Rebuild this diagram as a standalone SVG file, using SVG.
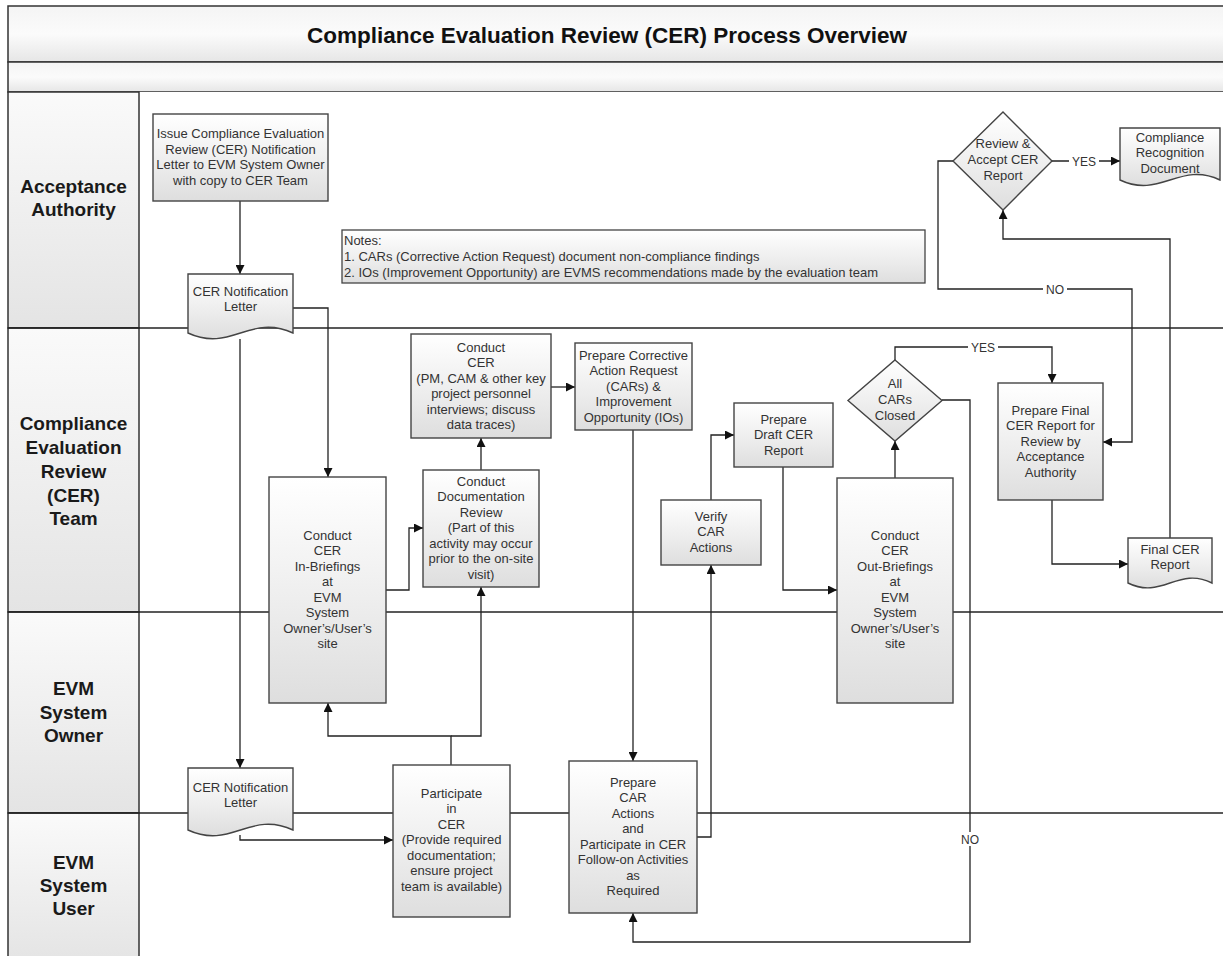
<svg xmlns="http://www.w3.org/2000/svg" width="1223" height="956" viewBox="0 0 1223 956">
<defs>
<linearGradient id="gNode" x1="0" y1="0" x2="0" y2="1">
<stop offset="0" stop-color="#ffffff"/>
<stop offset="0.6" stop-color="#ececec"/>
<stop offset="1" stop-color="#dedede"/>
</linearGradient>
<linearGradient id="gBand" x1="0" y1="0" x2="0" y2="1">
<stop offset="0" stop-color="#f4f4f4"/>
<stop offset="0.5" stop-color="#fbfbfb"/>
<stop offset="1" stop-color="#e6e6e6"/>
</linearGradient>
<linearGradient id="gLane" x1="0" y1="0" x2="0" y2="1">
<stop offset="0" stop-color="#fafafa"/>
<stop offset="1" stop-color="#e4e4e4"/>
</linearGradient>
<marker id="arr" viewBox="0 0 10 10" refX="10" refY="5" markerWidth="9" markerHeight="9" markerUnits="userSpaceOnUse" orient="auto">
<path d="M0,0 L10,5 L0,10 Z" fill="#111"/>
</marker>
<style>
.band{fill:url(#gBand);stroke:#333;stroke-width:1.5}
.lanehd{fill:url(#gLane);stroke:#333;stroke-width:1.5}
.laneline{stroke:#222;stroke-width:1.6;fill:none}
.node{fill:url(#gNode);stroke:#444;stroke-width:1.4}
.notes{fill:url(#gNode);stroke:#444;stroke-width:1.3}
.t{font-family:"Liberation Sans",Arial,sans-serif;font-size:13px;fill:#333;text-anchor:middle}
.nt{font-family:"Liberation Sans",Arial,sans-serif;font-size:13px;fill:#333}
.lb{font-family:"Liberation Sans",Arial,sans-serif;font-size:12px;fill:#333;text-anchor:middle}
.lane{font-family:"Liberation Sans",Arial,sans-serif;font-size:19px;font-weight:bold;fill:#1a1a1a;text-anchor:middle}
.title{font-family:"Liberation Sans",Arial,sans-serif;font-size:22.5px;font-weight:bold;fill:#111;text-anchor:middle}
.c{fill:none;stroke:#222;stroke-width:1.3}
.ca{fill:none;stroke:#222;stroke-width:1.3;marker-end:url(#arr)}
.lbg{fill:#fff}
</style>
</defs>

<g id="pool">
<rect class="band" x="8" y="6" width="1225" height="56"/>
<text class="title" x="607" y="42.5">Compliance Evaluation Review (CER) Process Overview</text>
<rect class="band" x="8" y="62" width="1225" height="30"/>
<rect x="139" y="92" width="1094" height="870" fill="#fff"/>
<rect class="lanehd" x="8" y="92" width="131" height="236"/>
<rect class="lanehd" x="8" y="328" width="131" height="284"/>
<rect class="lanehd" x="8" y="612" width="131" height="201"/>
<rect class="lanehd" x="8" y="813" width="131" height="150"/>
<line class="laneline" x1="8" y1="328" x2="1223" y2="328"/>
<line class="laneline" x1="8" y1="612" x2="1223" y2="612"/>
<line class="laneline" x1="8" y1="813" x2="1223" y2="813"/>
<text class="lane" x="73.5" y="192.5">Acceptance</text>
<text class="lane" x="73.5" y="215.5">Authority</text>
<text class="lane" x="73.5" y="429.5">Compliance</text>
<text class="lane" x="73.5" y="453.5">Evaluation</text>
<text class="lane" x="73.5" y="477.5">Review</text>
<text class="lane" x="73.5" y="501.5">(CER)</text>
<text class="lane" x="73.5" y="524.5">Team</text>
<text class="lane" x="73.5" y="694.5">EVM</text>
<text class="lane" x="73.5" y="718.5">System</text>
<text class="lane" x="73.5" y="741.5">Owner</text>
<text class="lane" x="73.5" y="868.5">EVM</text>
<text class="lane" x="73.5" y="891.5">System</text>
<text class="lane" x="73.5" y="914.5">User</text>
</g>

<g id="connectors">
<path class="ca" d="M240,201 V274"/>
<path class="ca" d="M293,308 H328 V477"/>
<path class="ca" d="M240,339 V768"/>
<path class="ca" d="M240,835 V840 H393"/>
<path class="ca" d="M386,590 H409 V528 H423"/>
<path class="ca" d="M481,470 V438"/>
<path class="ca" d="M451,765 V736 H328 V703"/>
<path class="ca" d="M451,736 H481 V587"/>
<path class="ca" d="M551,387 H575"/>
<path class="ca" d="M633,430 V761"/>
<path class="ca" d="M697,837 H711 V565"/>
<path class="ca" d="M711,500 V435 H734"/>
<path class="ca" d="M783,467 V590 H837"/>
<path class="ca" d="M895,478 V441"/>
<path class="ca" d="M895,360 V347 H1052 V383"/>
<path class="ca" d="M942,400 H970 V942 H633 V913"/>
<path class="ca" d="M1052,500 V564 H1128"/>
<path class="ca" d="M1170,538 V239 H1003 V210"/>
<path class="ca" d="M1052,161 H1120"/>
<path class="ca" d="M953,161 H938 V289 H1132 V442 H1103"/>
<rect class="lbg" x="968" y="340" width="30" height="14"/>
<text class="lb" x="983" y="351.5">YES</text>
<rect class="lbg" x="958" y="832" width="24" height="14"/>
<text class="lb" x="970" y="843.5">NO</text>
<rect class="lbg" x="1069" y="154" width="30" height="14"/>
<text class="lb" x="1084" y="165.5">YES</text>
<rect class="lbg" x="1043" y="282" width="24" height="14"/>
<text class="lb" x="1055" y="293.5">NO</text>
</g>

<g id="issue">
<rect class="node" x="153" y="114" width="175" height="87"/>
<text class="t" x="240.5" y="138">Issue Compliance Evaluation</text>
<text class="t" x="240.5" y="153.5">Review (CER)  Notification</text>
<text class="t" x="240.5" y="169">Letter to EVM System Owner</text>
<text class="t" x="240.5" y="184.5">with copy to CER Team</text>
</g>

<g id="notes">
<rect class="notes" x="342" y="230" width="583" height="53"/>
<text class="nt" x="344" y="245">Notes:</text>
<text class="nt" x="344" y="261">1. CARs (Corrective Action Request) document non-compliance findings</text>
<text class="nt" x="344" y="276.5">2. IOs (Improvement Opportunity) are EVMS recommendations made by the evaluation team</text>
</g>

<g id="letter1">
<path class="node" d="M188,274 H293 V333 C250,313 231,353 188,333 Z"/>
<text class="t" x="240.5" y="295.5">CER Notification</text>
<text class="t" x="240.5" y="310.5">Letter</text>
</g>

<g id="inbrief">
<rect class="node" x="269" y="477" width="117" height="226"/>
<text class="t" x="327.5" y="539.5">Conduct</text>
<text class="t" x="327.5" y="555">CER</text>
<text class="t" x="327.5" y="570.5">In-Briefings</text>
<text class="t" x="327.5" y="586">at</text>
<text class="t" x="327.5" y="601.5">EVM</text>
<text class="t" x="327.5" y="617">System</text>
<text class="t" x="327.5" y="632.5">Owner’s/User’s</text>
<text class="t" x="327.5" y="648">site</text>
</g>

<g id="docreview">
<rect class="node" x="423" y="470" width="116" height="117"/>
<text class="t" x="481" y="485.5">Conduct</text>
<text class="t" x="481" y="501">Documentation</text>
<text class="t" x="481" y="516.5">Review</text>
<text class="t" x="481" y="532"> (Part of this</text>
<text class="t" x="481" y="547.5">activity may occur</text>
<text class="t" x="481" y="563">prior to the on-site</text>
<text class="t" x="481" y="578.5">visit)</text>
</g>

<g id="conductcer">
<rect class="node" x="411" y="334" width="140" height="104"/>
<text class="t" x="481" y="351.5">Conduct</text>
<text class="t" x="481" y="367">CER</text>
<text class="t" x="481" y="382.5">(PM, CAM &amp; other key</text>
<text class="t" x="481" y="398">project personnel</text>
<text class="t" x="481" y="413.5">interviews; discuss</text>
<text class="t" x="481" y="429">data traces)</text>
</g>

<g id="preparecar">
<rect class="node" x="575" y="343" width="117" height="87"/>
<text class="t" x="633.5" y="359.5">Prepare Corrective</text>
<text class="t" x="633.5" y="375">Action Request</text>
<text class="t" x="633.5" y="390.5">(CARs) &amp;</text>
<text class="t" x="633.5" y="406">Improvement</text>
<text class="t" x="633.5" y="421.5">Opportunity (IOs)</text>
</g>

<g id="draft">
<rect class="node" x="734" y="403" width="99" height="64"/>
<text class="t" x="783.5" y="423.5">Prepare</text>
<text class="t" x="783.5" y="439">Draft CER</text>
<text class="t" x="783.5" y="454.5">Report</text>
</g>

<g id="verify">
<rect class="node" x="661" y="500" width="100" height="65"/>
<text class="t" x="711" y="520.5">Verify</text>
<text class="t" x="711" y="536">CAR</text>
<text class="t" x="711" y="551.5">Actions</text>
</g>

<g id="outbrief">
<rect class="node" x="837" y="478" width="116" height="225"/>
<text class="t" x="895" y="539.5">Conduct</text>
<text class="t" x="895" y="555">CER</text>
<text class="t" x="895" y="570.5">Out-Briefings</text>
<text class="t" x="895" y="586">at</text>
<text class="t" x="895" y="601.5">EVM</text>
<text class="t" x="895" y="617">System</text>
<text class="t" x="895" y="632.5">Owner’s/User’s</text>
<text class="t" x="895" y="648">site</text>
</g>

<g id="allcars">
<path class="node" d="M895,360 L942,400.5 L895,441 L848,400.5 Z"/>
<text class="t" x="895" y="387.5">All</text>
<text class="t" x="895" y="404">CARs</text>
<text class="t" x="895" y="419.5">Closed</text>
</g>

<g id="finalprep">
<rect class="node" x="998" y="383" width="105" height="117"/>
<text class="t" x="1050.5" y="414.5">Prepare Final</text>
<text class="t" x="1050.5" y="430">CER Report for</text>
<text class="t" x="1050.5" y="445.5">Review by</text>
<text class="t" x="1050.5" y="461">Acceptance</text>
<text class="t" x="1050.5" y="476.5">Authority</text>
</g>

<g id="finalreport">
<path class="node" d="M1128,538 H1212 V583 C1178,566 1162,600 1128,583 Z"/>
<text class="t" x="1170" y="553.5">Final CER</text>
<text class="t" x="1170" y="569">Report</text>
</g>

<g id="review">
<path class="node" d="M1003,112 L1052,161 L1003,210 L953,161 Z"/>
<text class="t" x="1003" y="147.5">Review &amp;</text>
<text class="t" x="1003" y="163.5">Accept CER</text>
<text class="t" x="1003" y="179.5">Report</text>
</g>

<g id="recognition">
<path class="node" d="M1120,128 H1220 V180 C1180,161 1160,199 1120,180 Z"/>
<text class="t" x="1170" y="141.5">Compliance</text>
<text class="t" x="1170" y="157">Recognition</text>
<text class="t" x="1170" y="172.5">Document</text>
</g>

<g id="letter2">
<path class="node" d="M188,768 H293 V830 C250,810 231,850 188,830 Z"/>
<text class="t" x="240.5" y="791.5">CER Notification</text>
<text class="t" x="240.5" y="806.5">Letter</text>
</g>

<g id="participate">
<rect class="node" x="393" y="765" width="117" height="152"/>
<text class="t" x="451.5" y="797.5">Participate</text>
<text class="t" x="451.5" y="813">in</text>
<text class="t" x="451.5" y="828.5">CER</text>
<text class="t" x="451.5" y="844">(Provide required</text>
<text class="t" x="451.5" y="859.5">documentation;</text>
<text class="t" x="451.5" y="875">ensure project</text>
<text class="t" x="451.5" y="890.5">team is available)</text>
</g>

<g id="caractions">
<rect class="node" x="569" y="761" width="128" height="152"/>
<text class="t" x="633" y="786.5">Prepare</text>
<text class="t" x="633" y="802">CAR</text>
<text class="t" x="633" y="817.5">Actions</text>
<text class="t" x="633" y="833">and</text>
<text class="t" x="633" y="848.5">Participate in CER</text>
<text class="t" x="633" y="864">Follow-on Activities</text>
<text class="t" x="633" y="879.5">as</text>
<text class="t" x="633" y="895">Required</text>
</g>
</svg>
